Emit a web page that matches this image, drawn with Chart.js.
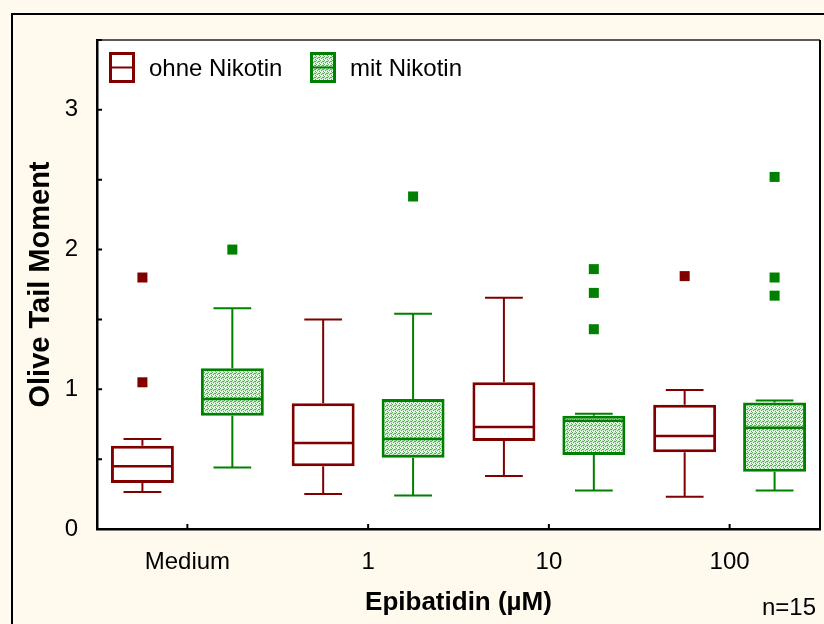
<!DOCTYPE html>
<html>
<head>
<meta charset="utf-8">
<script src="https://cdn.jsdelivr.net/npm/chart.js@4"></script>
<style>
  html, body { margin: 0; padding: 0; background: #FFF9EE; }
  #wrap { width: 824px; height: 624px; }
</style>
</head>
<body>
<div id="wrap"><canvas id="chart" width="824" height="624"></canvas></div>
<script>
// categories and tick labels
const doses = ['Medium', '1', '10', '100'];
const seriesNames = ['ohne Nikotin', 'mit Nikotin'];

// ohne Nikotin (red)
const ohneLow    = [0.265, 0.25, 0.38, 0.23];
const ohneQ1     = [0.33, 0.45, 0.63, 0.55];
const ohneMedian = [0.45, 0.615, 0.73, 0.665];
const ohneQ3     = [0.595, 0.90, 1.05, 0.89];
const ohneHigh   = [0.645, 1.50, 1.655, 0.995];
const ohneOut    = [[1.80, 1.05], [], [], [1.81]];

// mit Nikotin (green)
const mitLow    = [0.44, 0.24, 0.275, 0.275];
const mitQ1     = [0.81, 0.51, 0.53, 0.41];
const mitMedian = [0.93, 0.645, 0.775, 0.725];
const mitQ3     = [1.15, 0.93, 0.81, 0.905];
const mitHigh   = [1.58, 1.54, 0.825, 0.92];
const mitOut    = [[2.0], [2.38], [1.86, 1.69, 1.43], [2.52, 1.80, 1.67]];

const RED = '#800000';
const GREEN = '#008000';
const FONT = '"Liberation Sans", Arial, sans-serif';

// stippled green fill like the original
function stipple() {
    const c = document.createElement('canvas');
    c.width = 4; c.height = 4;
    const g = c.getContext('2d');
    g.fillStyle = '#d4ebd4';
    g.fillRect(0, 0, 4, 4);
    g.fillStyle = '#5aa85a';
    [[0, 0], [2, 1], [1, 2], [3, 3], [3, 1]].forEach(p => g.fillRect(p[0], p[1], 1, 1));
    g.fillStyle = '#ffffff';
    [[1, 0], [0, 3], [2, 3]].forEach(p => g.fillRect(p[0], p[1], 1, 1));
    return g.createPattern(c, 'repeat');
}
const greenFill = stipple();

const stats = [
    { low: ohneLow, med: ohneMedian, high: ohneHigh, q1: ohneQ1, q3: ohneQ3, out: ohneOut, color: RED, fill: '#ffffff' },
    { low: mitLow, med: mitMedian, high: mitHigh, q1: mitQ1, q3: mitQ3, out: mitOut, color: GREEN, fill: greenFill }
];

const boxParts = {
    id: 'boxParts',
    beforeDraw(chart) {
        const { ctx, chartArea: a } = chart;
        ctx.save();
        ctx.fillStyle = '#FFF9EE';
        ctx.fillRect(0, 0, chart.width, chart.height);
        ctx.strokeStyle = '#000';
        ctx.lineWidth = 2;
        ctx.strokeRect(12, 14, chart.width + 10, chart.height + 10);
        ctx.fillStyle = '#ffffff';
        ctx.fillRect(a.left, a.top, a.right - a.left, a.bottom - a.top);
        ctx.restore();
    },
    afterDatasetsDraw(chart) {
        const ctx = chart.ctx;
        const y = chart.scales.y;
        ctx.save();
        stats.forEach((s, di) => {
            const meta = chart.getDatasetMeta(di);
            meta.data.forEach((bar, i) => {
                const x = bar.x;
                const w = bar.width;
                const cap = w * 0.6;
                ctx.strokeStyle = s.color;
                ctx.lineWidth = 2;
                ctx.beginPath();
                ctx.moveTo(x, y.getPixelForValue(s.q3[i]));
                ctx.lineTo(x, y.getPixelForValue(s.high[i]));
                ctx.moveTo(x - cap / 2, y.getPixelForValue(s.high[i]));
                ctx.lineTo(x + cap / 2, y.getPixelForValue(s.high[i]));
                ctx.moveTo(x, y.getPixelForValue(s.q1[i]));
                ctx.lineTo(x, y.getPixelForValue(s.low[i]));
                ctx.moveTo(x - cap / 2, y.getPixelForValue(s.low[i]));
                ctx.lineTo(x + cap / 2, y.getPixelForValue(s.low[i]));
                ctx.stroke();
                ctx.lineWidth = 2.5;
                ctx.beginPath();
                ctx.moveTo(x - w / 2 + 1, y.getPixelForValue(s.med[i]));
                ctx.lineTo(x + w / 2 - 1, y.getPixelForValue(s.med[i]));
                ctx.stroke();
                ctx.fillStyle = s.color;
                s.out[i].forEach(v => {
                    ctx.fillRect(x - 5, y.getPixelForValue(v) - 5, 10, 10);
                });
            });
        });
        ctx.restore();
    },
    afterDraw(chart) {
        const { ctx, chartArea: a } = chart;
        const xs = chart.scales.x, ys = chart.scales.y;
        ctx.save();
        // top and right frame of the plot
        ctx.strokeStyle = '#222';
        ctx.lineWidth = 1.5;
        ctx.beginPath();
        ctx.moveTo(a.left, a.top);
        ctx.lineTo(a.right, a.top);
        ctx.stroke();
        ctx.lineWidth = 2;
        ctx.strokeStyle = '#000';
        ctx.beginPath();
        ctx.moveTo(a.right, a.top);
        ctx.lineTo(a.right, a.bottom);
        ctx.stroke();
        // inner tick marks
        ctx.lineWidth = 2;
        ctx.beginPath();
        ys.ticks.forEach(t => {
            const py = ys.getPixelForValue(t.value);
            ctx.moveTo(a.left, py);
            ctx.lineTo(a.left + 5, py);
        });
        doses.forEach((d, i) => {
            const px = xs.getPixelForValue(i);
            ctx.moveTo(px, a.bottom);
            ctx.lineTo(px, a.bottom - 5);
        });
        ctx.stroke();
        // legend inside the plot
        let lx = 109;
        const ly = 52;
        ctx.font = '24px ' + FONT;
        ctx.textBaseline = 'middle';
        stats.forEach((s, di) => {
            ctx.fillStyle = s.fill;
            ctx.fillRect(lx, ly, 26, 31);
            ctx.strokeStyle = s.color;
            ctx.lineWidth = 3;
            ctx.strokeRect(lx + 1.5, ly + 1.5, 23, 28);
            ctx.lineWidth = 2;
            ctx.beginPath();
            ctx.moveTo(lx + 2, ly + 15.5);
            ctx.lineTo(lx + 24, ly + 15.5);
            ctx.stroke();
            ctx.fillStyle = '#000';
            ctx.fillText(seriesNames[di], lx + 40, ly + 17);
            lx += 201;
        });
        // sample size note
        ctx.textBaseline = 'alphabetic';
        ctx.fillText('n=15', 762, 615);
        ctx.restore();
    }
};

new Chart(document.getElementById('chart'), {
    type: 'bar',
    data: {
        labels: doses,
        datasets: stats.map((s, di) => ({
            label: seriesNames[di],
            data: s.q1.map((v, i) => [v, s.q3[i]]),
            backgroundColor: s.fill,
            borderColor: s.color,
            borderWidth: 3,
            borderSkipped: false,
            categoryPercentage: 0.995,
            barPercentage: 0.7
        }))
    },
    options: {
        responsive: false,
        animation: false,
        layout: { padding: { left: 0, top: 40, right: 4, bottom: 0 } },
        plugins: {
            legend: { display: false },
            tooltip: { enabled: false }
        },
        scales: {
            x: {
                grid: { display: false },
                border: { color: '#000', width: 2.5 },
                ticks: { color: '#000', font: { family: FONT, size: 24 }, padding: 11 },
                title: {
                    display: true,
                    text: 'Epibatidin (µM)',
                    color: '#000',
                    font: { family: FONT, size: 26, weight: 'bold' },
                    padding: { top: 0, bottom: 6 }
                },
                afterFit(scale) { scale.height = 95; }
            },
            y: {
                min: 0,
                max: 3.5,
                grid: { display: false },
                border: { color: '#000', width: 2.5 },
                ticks: {
                    stepSize: 0.5,
                    color: '#000',
                    font: { family: FONT, size: 24 },
                    padding: 11,
                    callback: v => Number.isInteger(v) ? v : ''
                },
                title: {
                    display: true,
                    text: 'Olive Tail Moment',
                    color: '#000',
                    font: { family: FONT, size: 29, weight: 'bold' },
                    padding: { top: 24, bottom: 0 }
                },
                afterFit(scale) { scale.width = 97; }
            }
        }
    },
    plugins: [boxParts]
});
</script>
</body>
</html>
